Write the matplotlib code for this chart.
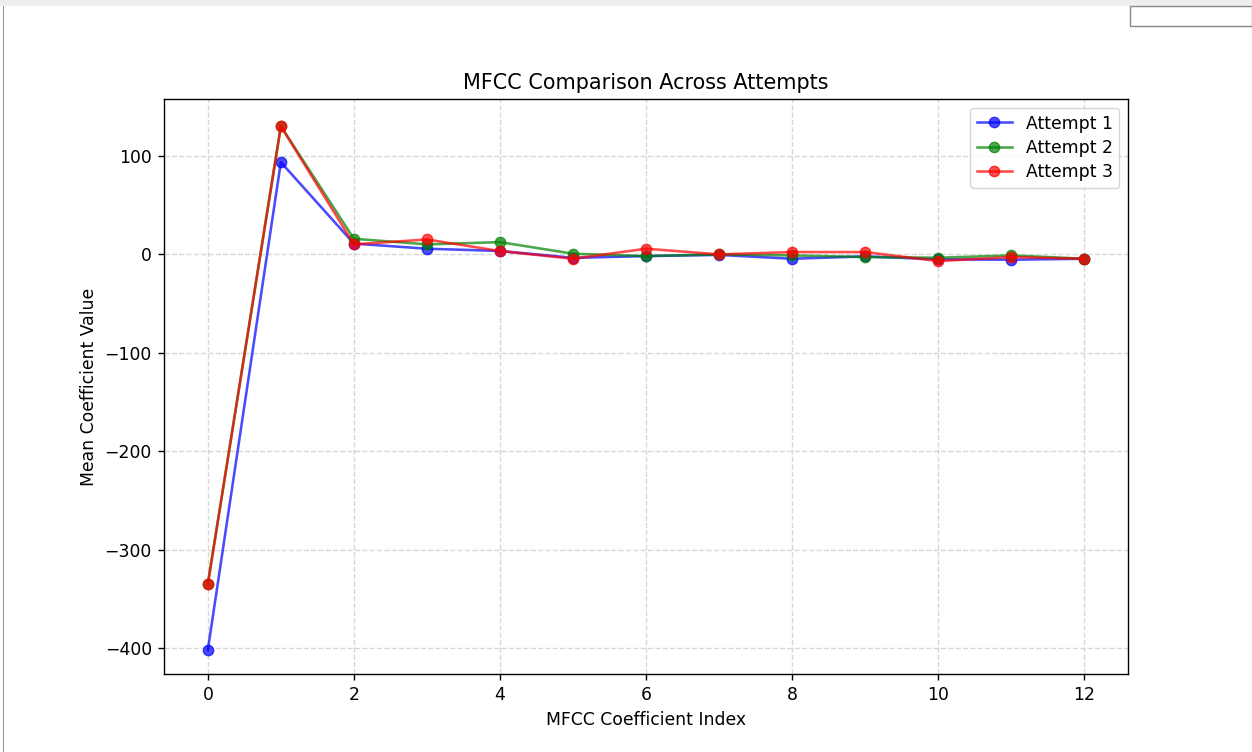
import matplotlib.pyplot as plt
from matplotlib.patches import Rectangle
from matplotlib.lines import Line2D

# MFCC mean coefficient values
coeff_index = list(range(13))
attempt_1 = [-402, 93.7, 11, 5.8, 3.5, -3.5, -1.7, -0.5, -4.4, -2, -5, -5.4, -4.4]
attempt_2 = [-335, 130.3, 15.9, 10.2, 12.5, 0.7, -1.7, 0, -1, -2.7, -3.4, -1, -4.4]
attempt_3 = [-335, 130.3, 10.2, 15.2, 3.4, -4.4, 5.8, 0, 2.4, 2.4, -6.8, -2.7, -4.4]

series = [("Attempt 1", attempt_1, "blue"),
          ("Attempt 2", attempt_2, "green"),
          ("Attempt 3", attempt_3, "red")]

S = 1.244  # screenshot scale relative to default figure

fig = plt.figure(figsize=(12.52, 7.52), dpi=100)
ax = fig.add_axes([0.131, 0.1037, 0.770, 0.7647])

for name, vals, col in series:
    ax.plot(coeff_index, vals, "o-", color=col, alpha=0.7, label=name,
            linewidth=1.5 * S, markersize=6 * S)

ax.set_ylim(-426.5, 158)
ax.set_title("MFCC Comparison Across Attempts", fontsize=12 * S, pad=6 * S)
ax.set_xlabel("MFCC Coefficient Index", fontsize=10 * S, labelpad=4 * S)
ax.set_ylabel("Mean Coefficient Value", fontsize=10 * S, labelpad=4 * S)
ax.tick_params(labelsize=10 * S, width=0.8 * S, length=3.5 * S, pad=3.5 * S)
for sp in ax.spines.values():
    sp.set_linewidth(0.8 * S)
ax.grid(True, linestyle="--", alpha=0.5, linewidth=0.8 * S)
ax.legend(loc="upper right", fontsize=10 * S, labelspacing=0.35)

# screenshot chrome around the chart
fig.patches.append(Rectangle((0, 1 - 6 / 752), 1, 6 / 752, transform=fig.transFigure,
                             facecolor="#eeeeee", edgecolor="none", zorder=0))
fig.lines.append(Line2D([3 / 1252, 3 / 1252], [0, 1 - 6 / 752], transform=fig.transFigure,
                        color="#999999", linewidth=0.8))
fig.patches.append(Rectangle((1130 / 1252, 1 - 26 / 752), 122 / 1252, 20 / 752,
                             transform=fig.transFigure, facecolor="white",
                             edgecolor="#888888", linewidth=1.0, zorder=1))

fig.savefig("out.png", dpi=100)
